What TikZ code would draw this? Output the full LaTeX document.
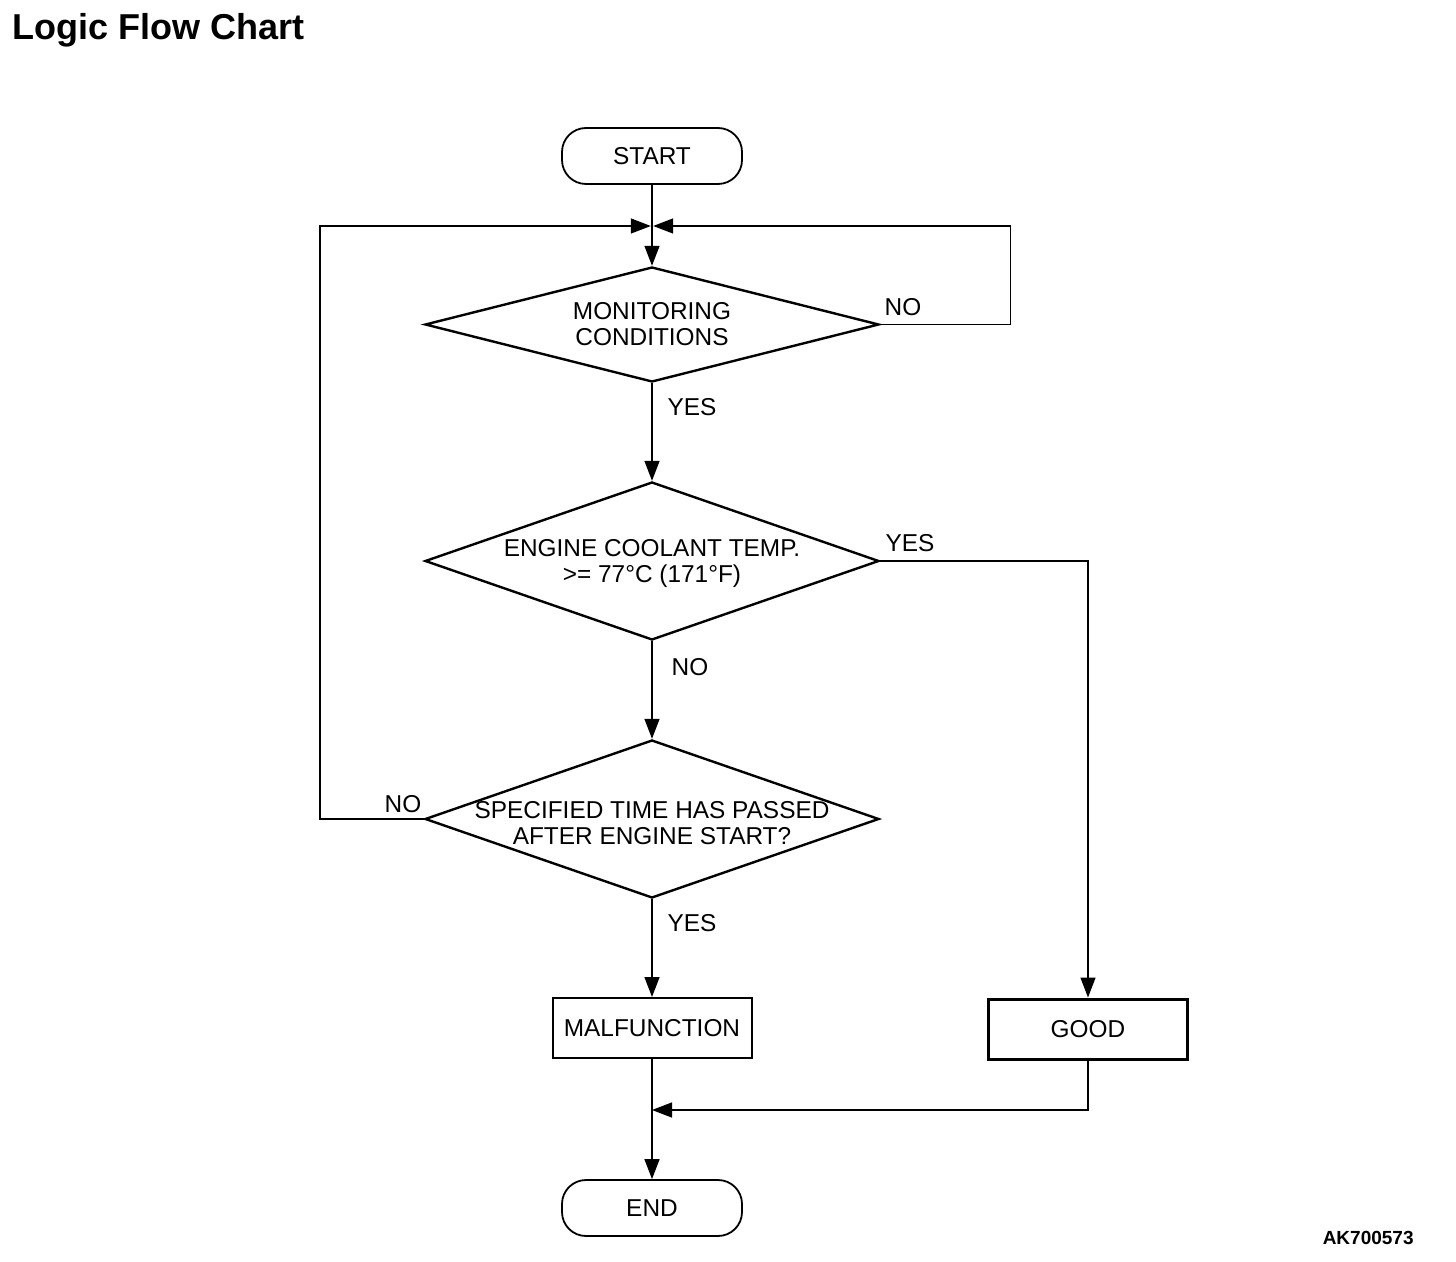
\documentclass[tikz,border=0pt]{standalone}
\usepackage{fontspec}
\setmainfont{Liberation Sans}
\usetikzlibrary{shapes,shapes.geometric,arrows.meta,positioning}

\begin{document}
\begin{tikzpicture}[
    x=0.5pt, y=-0.5pt,
    font=\fontsize{12.2}{13}\selectfont,
    terminal/.style={rectangle, draw, line width=0.9pt, rounded corners=12pt, minimum width=90pt, minimum height=28pt},
    decision/.style={diamond, draw, line width=1.2pt, inner sep=0pt, minimum width=227pt},
    result/.style={rectangle, draw, line width=1pt, minimum width=99.5pt, minimum height=30pt},
    flow/.style={-{Triangle[length=10pt,width=7.5pt]}, line width=0.7pt}
]
    \useasboundingbox (0,0) rectangle (1456,1262);

    \node [anchor=base west, inner sep=0pt, font=\fontsize{18}{20}\selectfont\bfseries] (title) at (12,40) {Logic Flow Chart};
    \node [anchor=base east, inner sep=0pt, font=\fontsize{9.5}{11}\selectfont\bfseries] (code) at (1414,1244) {AK700573};

    \node [terminal] (start) at (652,156) {START};

    \node [decision, minimum height=57.5pt] (cond) at (652,324.5) {};
    \node [align=center] (condtext) at (cond) {MONITORING\\CONDITIONS};

    \node [decision, minimum height=79pt] (temp) at (652,561) {};
    \node [align=center] (temptext) at ([yshift=-1.5pt]temp) {ENGINE COOLANT TEMP.\\>= 77°C (171°F)};

    \node [decision, minimum height=79pt] (check) at (652,819) {};
    \node [align=center] (checktext) at ([yshift=-2pt]check) {SPECIFIED TIME HAS PASSED\\AFTER ENGINE START?};

    \node [result] (malf) at (652,1028) {MALFUNCTION};
    \node [result, line width=1.5pt] (good) at (1088,1029) {GOOD};

    \node [terminal] (finish) at (652,1208) {END};

    \node (yes1) at (692,407) {YES};
    \node (no1) at (903,307) {NO};
    \node (yes2) at (910,543) {YES};
    \node (no2) at (690,667) {NO};
    \node (no3) at (403,804) {NO};
    \node (yes3) at (692,923) {YES};

    \coordinate (join) at (652,226);
    \coordinate (merge) at (652,1110);

    \draw [flow] (start) -- (cond);
    \draw [flow] (cond.east) -- ++(130,0) |- ([xshift=0.6pt]join);
    \draw [flow] (check.west) -- ++(-104,0) |- ([xshift=-0.6pt]join);
    \draw [flow] (cond) -- (temp);
    \draw [flow] (temp.east) -| (good);
    \draw [flow] (temp) -- (check);
    \draw [flow] (check) -- (malf);
    \draw [flow] (malf) -- (finish);
    \draw [flow] (good) |- (merge);

\end{tikzpicture}
\end{document}
